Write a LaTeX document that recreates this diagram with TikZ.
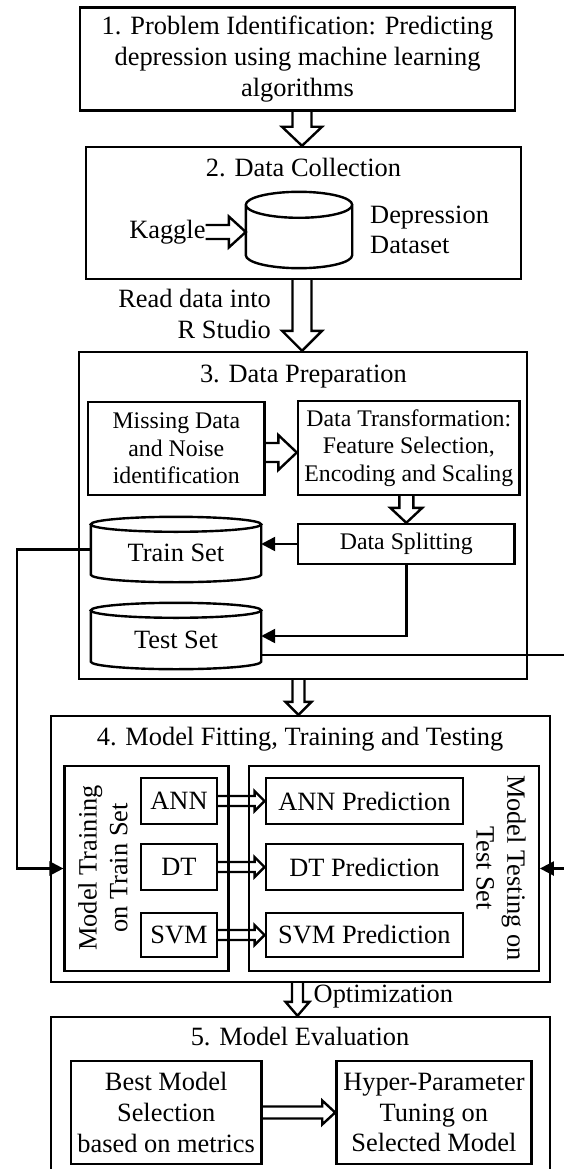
\documentclass[tikz,border=0pt]{standalone}
\usepackage{fontspec}
\setmainfont{Liberation Serif}
\usetikzlibrary{arrows.meta, calc}
\tikzset{
    x=1pt, y=-1pt, % one unit is one pixel of the page, y runs down
    every node/.style={font=\fontsize{26.4}{30.6}\selectfont, inner sep=0pt}, % text of the whole chart
    small/.style={font=\fontsize{23.8}{27.4}\selectfont}, % text of the data preparation boxes
    box/.style={draw, line width=2.4pt, align=center}, % every framed block
    wire/.style={line width=2.4pt, line join=miter}, % plain lines
    arr/.style={wire, -{Triangle[length=14pt, width=14pt]}}, % lines that end in a solid head
}
% hollow block arrows: start, tip, half shaft, half head, head length
\newcommand{\fatdown}[5]{%
  \draw[wire] let \p1=(#1), \p2=(#2) in
    (\x2-#3pt,\y1) -- (\x2-#3pt,\y2+#5pt) -- (\x2-#4pt,\y2+#5pt) -- (\x2,\y2)
    -- (\x2+#4pt,\y2+#5pt) -- (\x2+#3pt,\y2+#5pt) -- (\x2+#3pt,\y1);}
\newcommand{\fatright}[5]{%
  \draw[wire] let \p1=(#1), \p2=(#2) in
    (\x1,\y1+#3pt) -- (\x2-#5pt,\y1+#3pt) -- (\x2-#5pt,\y1+#4pt) -- (\x2,\y1)
    -- (\x2-#5pt,\y1-#4pt) -- (\x2-#5pt,\y1-#3pt) -- (\x1,\y1-#3pt);}
% database drum drawn over a plain node: node, radius of the end ellipse
\newcommand{\drum}[2]{%
  \draw[wire] let \p1=(#1.north west), \p2=(#1.south east), \n1={(\x2-\x1)/2} in
    (\x1,\y1-#2) -- (\x1,\y2+#2) arc[start angle=180, end angle=360, x radius=\n1, y radius=#2]
    -- (\x2,\y1-#2)
    (\x1+\n1,\y1-#2) ellipse[x radius=\n1, y radius=#2];}

\begin{document}
\begin{tikzpicture}
    \useasboundingbox (0,0) rectangle (563,1169);

    % 1. problem
    \node[box, minimum width=435, minimum height=103] (problem) at (297.5,59)
        {1. Problem Identification: Predicting\\depression using machine learning\\algorithms};

    % 2. data collection
    \node[box, minimum width=435, minimum height=132] (collect) at (303.7,213) {};
    \node[anchor=base] (collecttitle) at (303.5,177) {2. Data Collection};
    \node[minimum width=106, minimum height=76] (dataset) at (299,230) {};
    \drum{dataset}{13pt}
    \node[anchor=east] (kaggle) at (205.7,232) {Kaggle};
    \node[anchor=west, align=left] (datasetname) at (370,230) {Depression\\Dataset};
    \node[anchor=east, align=right] (readdata) at (271,314) {Read data into\\R Studio};

    % 3. data preparation
    \node[box, minimum width=448, minimum height=327] (prep) at (303,515.5) {};
    \node[anchor=base] (preptitle) at (303.4,382) {3. Data Preparation};
    \node[box, small, minimum width=176.6, minimum height=93] (missing) at (176.3,448.5)
        {Missing Data\\and Noise\\identification};
    \node[box, small, minimum width=221.6, minimum height=94] (transform) at (408.8,448)
        {Data Transformation:\\Feature Selection,\\Encoding and Scaling};
    \node[box, small, minimum width=216.5, minimum height=40] (split) at (406.3,544) {Data Splitting};
    \node[minimum width=170, minimum height=65] (trainset) at (176,549.5) {};
    \drum{trainset}{7.5pt}
    \node (trainsettext) at (176,553) {Train Set};
    \node[minimum width=170, minimum height=66] (testset) at (176,636) {};
    \drum{testset}{7.5pt}
    \node (testsettext) at (176,640) {Test Set};

    % 4. model fitting
    \node[box, minimum width=499, minimum height=266] (fit) at (300.5,849) {};
    \node[anchor=base] (fittitle) at (300,745) {4. Model Fitting, Training and Testing};
    \node[box, minimum width=164, minimum height=205] (trainbox) at (146.6,868.5) {};
    \node[box, minimum width=290, minimum height=205] (testbox) at (393.7,868.5) {};
    \node[rotate=90, align=center] (trainlabel) at (103,868) {Model Training\\on Train Set};
    \node[rotate=-90, align=center] (testlabel) at (501,868) {Model Testing on\\Test Set};
    \node[box, minimum width=76, minimum height=46] (ann) at (179,801) {ANN};
    \node[box, minimum width=76, minimum height=46] (dt) at (179,867) {DT};
    \node[box, minimum width=76, minimum height=44] (svm) at (179,935) {SVM};
    \node[box, minimum width=197.3, minimum height=46] (annpred) at (364.4,801) {ANN Prediction};
    \node[box, minimum width=197.3, minimum height=46] (dtpred) at (364.4,867) {DT Prediction};
    \node[box, minimum width=197.3, minimum height=44] (svmpred) at (364.4,935) {SVM Prediction};

    % 5. evaluation
    \node[box, minimum width=499, minimum height=158] (eval) at (300.5,1096) {};
    \node[anchor=base] (evaltitle) at (300,1045) {5. Model Evaluation};
    \node[box, minimum width=190.4, minimum height=103] (best) at (166.2,1112.5)
        {Best Model\\Selection\\based on metrics};
    \node[box, minimum width=195, minimum height=103] (hyper) at (433.9,1112.5)
        {Hyper-Parameter\\Tuning on\\Selected Model};
    \node[anchor=west] (optim) at (313.5,997) {Optimization};

    % block arrows
    \fatdown{problem.south}{[xshift=-1.7pt]collect.north}{9.5}{20}{19}
    \fatdown{collect.south}{[xshift=-1pt]prep.north}{9.5}{20}{20}
    \fatdown{prep.south}{[xshift=-2pt]fit.north}{6}{13}{13}
    \fatdown{fit.south}{[xshift=-3pt]eval.north}{5.5}{12}{14}
    \fatdown{transform.south}{split.north}{7}{16}{15}
    \fatright{kaggle.east}{dataset.west}{7}{15.5}{17}
    \fatright{[yshift=-4pt]missing.east}{transform.west}{9.5}{17.5}{18.5}
    \fatright{ann.east}{annpred.west}{5}{10}{10}
    \fatright{dt.east}{dtpred.west}{5}{10}{10}
    \fatright{svm.east}{svmpred.west}{5}{10}{10}
    \fatright{best.east}{hyper.west}{6}{12}{13}

    % data flow
    \draw[arr] (split.west) -- (split.west -| trainset.east);
    \draw[arr] (split.south) |- (testset.east);
    \draw[arr] (trainset.west) -- ++(-74,0) |- (trainbox.west);
    \draw[arr] ([yshift=-19pt]testset.east) -- ++(320,0) |- (testbox.east);
\end{tikzpicture}
\end{document}
